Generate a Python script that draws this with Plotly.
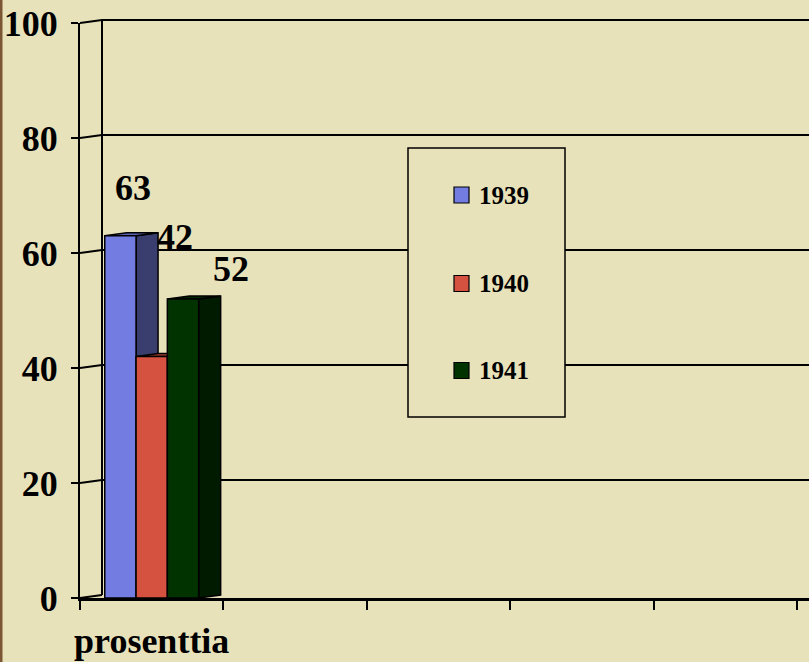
import plotly.graph_objects as go

# ---- data ----
categories = ["prosenttia"]
series_names = ["1939", "1940", "1941"]
series_values = [63, 42, 52]
y_ticks = [0, 20, 40, 60, 80, 100]

# ---- style ----
front_colors = ["#737CE0", "#D55241", "#003300"]
side_colors = ["#393E6E", "#7A2C22", "#001B00"]
top_colors = ["#5860B0", "#A63C30", "#002600"]
BG = "#E8E2BA"
FONT = "Liberation Serif"

W, H = 809, 662
ML, MR, MT, MB = 80, 0, 23, 64
plot_w = W - ML - MR
plot_h = H - MT - MB
px_per_cat = 143.4
x_max = plot_w / px_per_cat
y_max = 100.0
px_per_y = plot_h / y_max

depth_x = 22 / px_per_cat      # 3D depth in x data units
depth_y = 3.0 / px_per_y       # 3D depth in y data units
bar_w = 31.3 / px_per_cat
cat_center = 0.5

def px_paper(p):  # pixel -> paper x
    return (p - ML) / plot_w

def py_paper(p):  # pixel -> paper y
    return (H - MB - p) / plot_h

def dx_paper(x):  # x data -> paper (linear axis, range [0, x_max])
    return x / x_max

def dy_paper(y):  # y data -> paper (linear axis, range [0, y_max])
    return y / y_max

fig = go.Figure()
shapes = []

# back-wall gridlines (with the slant from the front axis); paper refs so the
# top line above the value range is not clipped
for v in y_ticks[1:]:
    shapes.append(dict(
        type="path", xref="paper", yref="paper", layer="below",
        path=(f"M {dx_paper(0)},{dy_paper(v)} "
              f"L {dx_paper(depth_x)},{dy_paper(v + depth_y)} "
              f"L {dx_paper(x_max)},{dy_paper(v + depth_y)}"),
        line=dict(color="black", width=2)))
# back wall vertical edge
shapes.append(dict(type="line", xref="paper", yref="paper", layer="below",
                   x0=dx_paper(depth_x), x1=dx_paper(depth_x),
                   y0=dy_paper(depth_y), y1=dy_paper(y_max + depth_y),
                   line=dict(color="black", width=2)))
# floor slant
shapes.append(dict(type="line", xref="paper", yref="paper", layer="below",
                   x0=dx_paper(0), x1=dx_paper(depth_x),
                   y0=dy_paper(0), y1=dy_paper(depth_y),
                   line=dict(color="black", width=2)))

# 3D side / top faces and front faces
for i, (name, v) in enumerate(zip(series_names, series_values)):
    xc = cat_center + (i - 1) * bar_w
    xl, xr = xc - bar_w / 2, xc + bar_w / 2
    shapes.append(dict(
        type="path", xref="x", yref="y", layer="between",
        path=f"M {xr},0 L {xr + depth_x},{depth_y} L {xr + depth_x},{v + depth_y} L {xr},{v} Z",
        fillcolor=side_colors[i], line=dict(color="black", width=1.5)))
    shapes.append(dict(
        type="path", xref="x", yref="y", layer="between",
        path=f"M {xl},{v} L {xl + depth_x},{v + depth_y} L {xr + depth_x},{v + depth_y} L {xr},{v} Z",
        fillcolor=top_colors[i], line=dict(color="black", width=1.5)))
    fig.add_trace(go.Bar(
        x=[xc], y=[v], width=[bar_w], name=name,
        marker=dict(color=front_colors[i], line=dict(color="black", width=1.5)),
        showlegend=False, hoverinfo="skip"))

# data labels (placed like the original, offsets in px)
label_shift = [(13, 48), (23, 120), (48, 30)]
annotations = []
for i, v in enumerate(series_values):
    xc = cat_center + (i - 1) * bar_w
    annotations.append(dict(
        x=xc, y=v, xref="x", yref="y", text=str(v), showarrow=False,
        xanchor="center", yanchor="middle",
        xshift=label_shift[i][0], yshift=label_shift[i][1],
        font=dict(family=FONT, size=36, color="black", weight="bold")))

# legend box
lg_x0, lg_x1, lg_y0, lg_y1 = 408, 565, 148, 417
shapes.append(dict(type="rect", xref="paper", yref="paper", layer="above",
                   x0=px_paper(lg_x0), x1=px_paper(lg_x1),
                   y0=py_paper(lg_y1), y1=py_paper(lg_y0),
                   fillcolor=BG, line=dict(color="black", width=1.5)))
legend_rows = [195, 283.5, 370.5]
for i, name in enumerate(series_names):
    cy = legend_rows[i]
    shapes.append(dict(type="rect", xref="paper", yref="paper", layer="above",
                       x0=px_paper(454), x1=px_paper(469),
                       y0=py_paper(cy + 8), y1=py_paper(cy - 8),
                       fillcolor=front_colors[i], line=dict(color="black", width=1.2)))
    annotations.append(dict(
        x=px_paper(477), y=py_paper(cy), xref="paper", yref="paper", text=name,
        showarrow=False, xanchor="left", yanchor="middle",
        font=dict(family=FONT, size=25, color="black", weight="bold")))

# wooden strip at the far left edge
shapes.append(dict(type="rect", xref="paper", yref="paper", layer="above",
                   x0=px_paper(0), x1=px_paper(2.5), y0=py_paper(H), y1=py_paper(0),
                   fillcolor="#7A5634", line=dict(width=0)))

fig.update_layout(
    width=W, height=H,
    margin=dict(l=ML, r=MR, t=MT, b=MB, pad=0),
    paper_bgcolor=BG, plot_bgcolor=BG,
    barmode="overlay",
    shapes=shapes, annotations=annotations,
    showlegend=False,
    xaxis=dict(
        range=[0, x_max], showgrid=False, zeroline=False,
        showline=True, linecolor="black", linewidth=3,
        tickvals=[cat_center], ticktext=categories, ticks="",
        ticklabelstandoff=9,
        tickfont=dict(family=FONT, size=36, color="black", weight="bold"),
        minor=dict(ticks="outside", ticklen=9, tickwidth=2, tickcolor="black",
                   tick0=0, dtick=1, showgrid=False),
    ),
    yaxis=dict(
        range=[0, y_max], tickvals=y_ticks, showgrid=False, zeroline=False,
        showline=True, linecolor="black", linewidth=2,
        ticks="outside", ticklen=7, tickwidth=2, tickcolor="black",
        ticklabelstandoff=6,
        tickfont=dict(family=FONT, size=36, color="black", weight="bold"),
    ),
)

fig.write_html(
    "out.html",
    config={"displayModeBar": False},
    post_script="document.body.style.margin='0';document.body.style.background='" + BG + "';",
)
